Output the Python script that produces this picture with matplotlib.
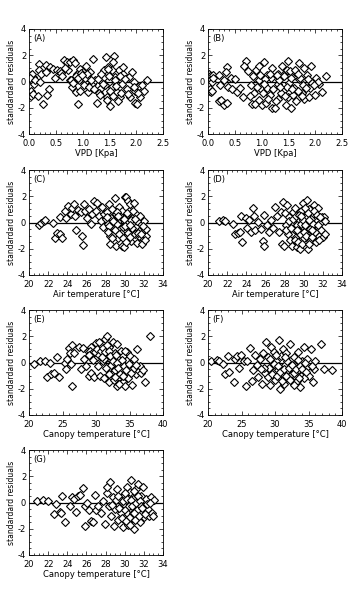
from matplotlib import pyplot as plt
from matplotlib.ticker import MultipleLocator, FormatStrFormatter

# residual plots, 7 panels (A)-(G)

# (A) VPD, model 1
vpd_a = [0.04, 0.04, 0.08, 0.03, 0.04, 0.08, 0.10, 0.06, 0.02, 0.12,
         0.19, 0.19, 0.23, 0.20, 0.26, 0.17, 0.32, 0.32, 0.39, 0.37, 0.34, 0.45, 0.48, 0.52, 0.57, 0.60,
         0.66, 0.70, 0.73, 0.76, 0.77, 0.82, 0.86, 0.80, 0.87, 0.92, 0.90, 0.95, 0.98, 1.01, 1.04, 0.95, 1.06, 1.09, 1.14, 1.17, 1.11,
         1.24, 1.20, 1.26, 1.33, 1.36, 1.39, 1.40, 1.44, 1.48, 1.46, 1.51, 1.54, 1.58, 1.56, 1.61, 1.64, 1.67, 1.70, 1.73, 1.76, 1.76,
         1.83, 1.86, 1.89, 1.95, 1.98, 2.01, 1.98, 2.07, 2.14, 2.20, 2.05,
         0.85, 0.88, 0.93, 0.97, 1.00, 1.02, 1.05, 1.08, 0.78, 0.83,
         0.91, 0.99, 1.12, 1.15, 1.22, 1.28, 1.30, 1.35, 1.42, 1.45,
         1.50, 1.52, 1.55, 1.57, 1.60, 1.63, 1.66, 1.69, 1.72, 1.80,
         1.85, 1.92, 1.96, 2.03, 2.10, 0.62, 0.68, 1.32, 1.38, 1.47]
res_a = [0.46, 0.08, 0.33, -0.70, -1.08, -0.95, -0.20, 0.55, 0.25, 0.10,
         1.30, 0.85, 0.54, 0.00, -1.75, -1.08, 1.23, 0.72, 1.10, -0.56, -1.00, 0.97, 0.28, 0.90, 0.80, 0.64,
         1.67, 1.50, 0.85, 1.50, 0.08, 1.67, 1.41, -0.44, -0.82, -1.72, 0.59, 0.97, 0.33, 0.72, -0.05, -0.70, 1.15, 0.33, 0.72, -0.18, -0.82,
         0.08, 1.74, -1.60, -0.56, -0.05, 0.85, 0.33, 1.90, 1.10, -1.20, -1.85, -0.44, 1.97, 1.50, 0.33, -0.82, 0.85, -1.20, -0.18, 0.59, 1.10,
         -0.56, 0.33, -1.20, -0.05, -1.60, -1.72, -0.70, -1.20, -0.70, 0.08, -0.38,
         0.20, 0.45, 0.10, 0.65, 0.40, -0.30, 0.25, 0.55, 0.15, -0.10,
         0.30, 0.50, -0.40, 0.10, -0.60, 0.20, -0.90, 0.60, -0.30, -1.40,
         0.45, -0.70, 0.90, -1.10, 0.15, -0.35, -1.50, 0.40, -0.90, 0.20,
         -0.95, 0.70, -0.45, -0.85, -0.30, 0.40, 1.05, -1.00, -0.20, 0.95]

# (B) VPD, model 2
vpd_b = [0.02, 0.04, 0.06, 0.08, 0.03, 0.05, 0.07, 0.10, 0.09,
         0.20, 0.25, 0.30, 0.35, 0.20, 0.22, 0.35, 0.33, 0.30, 0.38, 0.45, 0.42, 0.50, 0.55,
         0.70, 0.68, 0.60, 0.65, 0.75, 0.80, 0.82, 0.88, 0.90, 0.95, 0.95, 0.85, 0.88, 0.95, 0.98,
         1.05, 1.00, 1.08, 1.10, 1.10, 1.20, 1.25, 1.20, 1.18, 1.15, 1.30, 1.30, 1.30, 1.38, 1.45, 1.40, 1.45, 1.50, 1.48, 1.55, 1.52, 1.55, 1.50,
         1.62, 1.60, 1.65, 1.70, 1.70, 1.75, 1.80, 1.78, 1.80, 1.85, 1.88, 1.92, 1.92, 1.95, 1.90, 2.00, 2.02, 2.08, 2.12, 2.20, 2.05,
         0.92, 0.97, 1.02, 1.06, 1.12, 1.16, 1.22, 1.26, 1.33, 1.36,
         1.42, 1.47, 1.53, 1.58, 1.63, 1.67, 1.72, 1.76, 1.83, 1.87,
         0.78, 0.84, 1.04, 1.28, 1.35, 1.44, 1.57, 1.68, 1.94, 1.98]
res_b = [0.6, 0.4, 0.2, 0.0, -0.6, -0.8, -0.7, 0.5, 0.3,
         -1.5, -1.4, -1.8, -1.6, 0.5, -0.3, 1.1, 0.7, 0.1, -0.4, -0.6, 0.3, 0.2, -0.8,
         1.6, 1.2, -0.5, -1.2, 0.8, -0.3, -1.7, -1.75, 0.9, 1.2, -1.4, -0.9, 0.3, 0.1, -0.6,
         1.5, -1.8, -1.6, 0.5, -0.5, -2.0, -2.0, 1.0, 0.3, -1.0, 0.6, -0.2, -1.3, 1.2, 0.7, -0.7, -1.8, 1.6, 0.9, -2.0, -0.1, 0.3, -1.2,
         0.7, -0.5, -1.5, 1.4, 0.2, -0.9, 1.0, -0.3, -1.3, 0.5, -1.2, 1.2, -0.3, -0.2, -0.5, -1.0, 0.3, -0.2, -0.8, 0.4, 0.0,
         -0.4, 0.5, -0.9, 0.2, -1.3, 0.6, -0.6, -1.5, 0.1, -0.9,
         0.4, -0.4, 0.8, -1.0, 0.9, -0.7, 0.3, -1.1, -0.5, 0.2,
         -1.1, 0.4, -0.2, 0.5, -0.4, -1.1, -0.6, 0.6, -0.1, -0.3]

# (C) air temperature, model 1
ta_c = [21.05, 21.3, 21.6, 21.7, 22.5, 22.7, 22.96, 23.2, 23.4, 23.2, 23.8, 23.9, 24.1, 24.35, 24.5, 24.7, 24.8, 24.9, 25.15, 25.4,
        25.5, 25.6, 25.75, 25.9, 26.1, 26.3, 26.55, 26.45, 26.8, 26.97, 27.14, 27.3, 27.5, 27.6, 27.7, 27.8, 28.0, 28.2, 28.3, 28.36,
        28.43, 28.5, 28.6, 28.7, 28.9, 28.99, 29.06, 29.1, 29.2, 29.3, 29.4, 29.5, 29.6, 29.7, 29.76, 29.86, 29.93, 30.03, 30.1, 30.17,
        30.24, 30.3, 30.38, 30.45, 30.5, 30.6, 30.7, 30.8, 30.87, 30.94, 31.0, 31.08, 31.15, 31.2, 31.3, 31.4, 31.5, 31.67, 31.78, 31.85,
        32.0, 32.1, 32.2, 32.25,
        28.1, 28.4, 28.8, 29.0, 29.2, 29.45, 29.65, 29.8, 30.0, 30.2,
        30.35, 30.55, 30.65, 30.75, 30.9, 31.05, 31.25, 31.45, 31.6, 31.9,
        28.25, 28.65, 29.35, 29.9, 30.15, 30.6, 31.1, 31.35, 31.7, 32.15]
res_c = [-0.18, 0.0, 0.13, 0.18, -0.05, -1.15, -0.77, -0.9, -1.15, 0.44, 0.9, 0.38, 1.28, 0.64, 1.1, 1.41, 0.51, -0.59, 0.95, 0.77,
         -1.03, -1.72, 1.41, 0.9, 0.38, 1.03, 0.64, -0.08, 1.62, 0.9, 1.46, 0.51, 0.13, 1.15, -0.38, 0.64, 0.26, 0.77, -0.13, 1.41,
         -1.03, -1.67, 0.38, 1.03, -0.51, 1.87, -1.8, 0.64, -0.13, -1.15, 1.2, 0.26, -0.77, -1.8, 0.9, -0.38, -1.87, 1.97, 0.51, 1.92,
         -1.03, 1.67, 0.0, 0.9, -0.51, 1.41, -1.41, 0.38, -0.77, 1.49, -0.13, -1.15, 0.64, -0.38, -1.54, 0.26, -0.64, -0.13, -1.15, -1.67,
         0.13, -0.59, -1.03, -0.51,
         0.45, -0.3, 0.1, -0.6, 0.8, -0.9, 0.4, -1.2, -0.3, 0.7,
         -0.8, -1.1, 0.2, -0.4, 0.9, -0.9, 0.1, -1.0, 0.5, -0.3,
         -0.7, -1.2, 0.5, 0.3, -1.5, -0.2, 0.3, -0.8, -0.9, -1.3]

# (D) air temperature, model 2
ta_d = [21.1, 21.6, 21.8, 22.6, 22.8, 23.1, 23.3, 23.4, 23.5, 24.0,
        24.1, 24.3, 24.5, 24.7, 24.8, 24.9, 25.2, 25.5, 25.7, 25.8,
        25.9, 26.2, 26.4, 26.6, 26.8, 27.0, 27.2, 27.4, 27.6, 27.7,
        27.8, 27.9, 28.0, 28.1, 28.3, 28.4, 28.5, 28.6, 28.7, 28.8,
        28.9, 29.0, 29.1, 29.2, 29.3, 29.4, 29.5, 29.6, 29.7, 29.8,
        29.9, 30.0, 30.1, 30.2, 30.3, 30.4, 30.5, 30.6, 30.7, 30.8,
        30.9, 31.0, 31.1, 31.2, 31.3, 31.4, 31.5, 31.6, 31.7, 31.8,
        31.9, 32.0, 32.1, 32.2, 32.2,
        28.2, 28.45, 28.65, 28.85, 29.05, 29.15, 29.25, 29.45, 29.55, 29.65,
        29.75, 29.85, 29.95, 30.05, 30.15, 30.25, 30.35, 30.45, 30.55, 30.65,
        30.75, 30.85, 30.95, 31.05, 31.15, 31.25, 31.35, 31.45, 31.55, 31.65,
        29.35, 29.75, 30.1, 30.6, 30.9]
res_d = [0.1, 0.2, 0.15, -0.1, -0.9, -0.8, -0.7, 0.5, -1.5, 0.35,
         -0.4, 0.2, -0.7, 1.1, 0.5, -0.6, 0.05, -0.5, -1.4, -1.8,
         0.6, -0.2, -0.7, 0.2, -0.4, 1.2, 0.5, -0.7, 0.8, -1.6,
         1.6, -1.8, 0.7, -0.2, 1.3, -0.9, 0.4, -1.3, 0.0, -1.8,
         0.8, -0.5, 1.1, -1.1, -1.9, 0.3, -0.8, -2.0, 0.9, -0.3,
         1.5, -1.2, 0.4, -0.6, 1.7, -2.0, 0.1, 1.0, -1.4, -0.2,
         0.6, -0.9, 1.3, -1.2, 0.3, -0.5, 1.1, -1.0, 0.0, -0.6,
         0.4, -1.1, 0.4, -0.9, 0.1,
         -0.6, 0.1, -0.4, 0.3, -1.3, 0.5, -0.2, -1.5, 0.6, -0.9,
         -0.1, -1.6, 0.2, -0.7, 1.1, -1.0, -0.3, 0.7, -1.6, -0.5,
         0.3, -1.1, -0.1, 0.9, -0.7, -1.5, 0.6, -0.2, -1.3, 0.4,
         -0.6, 0.5, -0.2, 0.2, -0.6]

# (E) canopy temperature, model 1
tc_e = [20.8, 21.6, 22.4, 23.2, 22.7, 23.3, 23.8, 24.2, 24.5, 25.3,
        25.5, 25.7, 25.9, 26.1, 26.4, 26.3, 26.4, 26.7, 27.5, 27.8,
        28.0, 28.2, 28.5, 28.8, 29.0, 29.2, 29.3, 29.5, 29.7, 30.0,
        30.1, 30.3, 30.5, 30.6, 30.8, 31.0, 31.2, 31.4, 31.5, 31.7,
        31.8, 31.9, 32.0, 32.2, 32.4, 32.5, 32.7, 32.8, 33.0, 33.1,
        33.2, 33.4, 33.5, 33.7, 33.8, 34.0, 34.1, 34.3, 34.4, 34.6,
        34.7, 34.8, 35.0, 35.1, 35.3, 35.5, 35.7, 35.9, 36.1, 36.2,
        36.5, 36.7, 37.3, 38.0, 37.0,
        29.1, 29.4, 29.9, 30.2, 30.4, 30.7, 31.1, 31.3, 31.6, 31.9,
        32.1, 32.3, 32.6, 32.9, 33.1, 33.3, 33.6, 33.9, 34.2, 34.5,
        34.9, 35.2, 35.6, 36.0, 31.2, 32.0, 32.8, 33.4, 34.0, 28.9,
        29.6, 30.9, 31.5, 33.0, 34.4]
res_e = [-0.1, 0.1, 0.15, 0.0, -1.1, -0.9, -0.8, 0.4, -1.1, 0.0,
         -0.5, 0.3, 1.1, 0.7, 1.3, -0.1, -1.8, 0.7, 1.2, -0.5,
         1.1, 0.3, -0.3, 0.9, -1.0, 1.2, -0.8, 0.6, -1.1, 1.5,
         0.4, -0.3, 1.6, -1.0, 0.8, 0.1, -1.2, 1.8, 0.5, 2.0,
         -0.5, -1.5, 1.2, 0.2, -0.9, 1.6, -1.3, 0.7, -0.3, 1.4,
         -1.8, 0.3, -1.1, 0.9, -0.5, -1.5, 0.5, -0.8, -1.8, 0.2,
         0.8, -1.2, -0.4, 0.5, -1.7, -0.2, 0.3, -0.9, 1.0, -0.6,
         -0.3, -0.8, -1.5, 2.0, -0.6,
         0.9, 0.7, 0.8, 1.0, 0.6, 0.9, 1.1, 0.8, 1.3, 0.9,
         0.5, -0.2, 0.1, -0.6, 0.0, -0.4, -0.9, 0.2, -0.3, -0.6,
         -0.1, -0.8, -0.4, -0.2, 0.3, -0.9, -1.1, -1.6, -1.0, 0.6,
         0.2, 0.4, -0.4, 0.6, 0.9]

# (F) canopy temperature, model 2
tc_f = [20.4, 21.3, 21.6, 22.3, 22.6, 23.0, 23.2, 23.9, 24.0, 24.4,
        24.6, 24.9, 25.3, 25.6, 25.8, 26.2, 26.5, 26.7, 27.0, 27.3,
        27.5, 27.8, 28.0, 28.2, 28.5, 28.7, 28.9, 29.0, 29.2, 29.4,
        29.6, 29.8, 30.0, 30.2, 30.4, 30.6, 30.7, 30.9, 31.0, 31.2,
        31.4, 31.5, 31.7, 31.9, 32.0, 32.2, 32.4, 32.5, 32.7, 32.9,
        33.0, 33.2, 33.4, 33.6, 33.8, 34.0, 34.2, 34.4, 34.6, 34.8,
        35.0, 35.3, 35.6, 35.8, 36.0, 36.8, 37.3, 38.5, 35.5,
        29.1, 29.5, 29.9, 30.3, 30.5, 30.8, 31.1, 31.3, 31.6, 31.8,
        32.1, 32.3, 32.6, 32.8, 33.1, 33.3, 33.5, 33.7, 33.9, 34.1,
        34.3, 34.5, 34.7, 29.3, 30.1, 31.5, 32.9, 33.6, 28.4, 27.9]
res_f = [0.1, 0.2, 0.1, -0.1, -0.9, 0.5, -0.7, -1.5, 0.3, 0.5,
         -0.4, 0.6, 0.1, -1.8, 0.1, 1.1, -1.4, -0.6, 0.6, -0.2,
         -1.1, 0.3, -1.6, 0.7, -0.8, 1.6, 0.4, -1.1, -1.7, 1.2,
         -0.3, 0.8, -1.3, 0.1, -0.6, 1.7, -2.0, 0.5, -0.9, 1.0,
         -1.6, -0.2, 0.7, -1.2, -0.6, 1.4, 0.2, -0.9, -1.5, 0.4,
         -0.3, -1.1, 0.8, -0.6, -1.9, 0.1, -0.8, 1.2, -0.4, 0.3,
         -1.0, 1.0, -1.5, -0.5, 0.1, 1.4, -0.5, -0.6, -0.3,
         -0.4, -0.9, -0.1, -1.0, -0.3, -0.7, -1.4, -0.5, -1.0, 0.1,
         -0.4, -1.3, -0.2, -0.8, -0.5, -1.4, 0.2, -0.3, -1.0, -0.5,
         -1.2, 0.0, -0.7, 0.3, 0.6, 0.4, -1.7, -1.2, -0.4, -0.5]

# (G) canopy temperature, model 3
tc_g = [20.8, 21.5, 22.0, 22.6, 22.8, 23.2, 23.3, 23.4, 23.8, 24.3,
        24.5, 24.7, 24.9, 25.1, 25.3, 25.6, 25.8, 25.9, 26.1, 26.3,
        26.5, 26.7, 26.9, 27.0, 27.2, 27.5, 27.7, 27.9, 28.1, 28.2,
        28.4, 28.5, 28.6, 28.8, 28.9, 29.0, 29.2, 29.3, 29.5, 29.6,
        29.8, 29.9, 30.0, 30.1, 30.2, 30.3, 30.4, 30.5, 30.6, 30.7,
        30.8, 30.9, 31.0, 31.1, 31.2, 31.3, 31.4, 31.5, 31.6, 31.7,
        31.8, 31.9, 32.0, 32.2, 32.4, 32.5, 32.7, 32.8, 33.0, 33.1,
        29.4, 29.7, 29.85, 30.05, 30.15, 30.25, 30.35, 30.45, 30.55, 30.65,
        30.75, 30.85, 30.95, 31.05, 31.15, 31.25, 31.35, 31.45, 31.55, 31.65,
        31.85, 32.1, 32.3, 28.7, 29.1, 29.3, 30.0, 30.6, 31.0, 32.6]
res_g = [0.1, 0.2, 0.1, -0.9, -0.1, -0.7, -0.8, 0.5, -1.5, -0.3,
         0.4, 0.3, -0.7, 0.5, 0.6, 1.1, -0.3, -1.8, 0.0, -0.6,
         -1.4, -1.5, 0.6, -0.6, -0.3, -0.8, 0.1, -1.6, 0.7, 1.2,
         -0.3, 1.6, -1.0, 0.4, -1.8, -0.5, 1.0, -1.3, 0.2, -0.8,
         -1.9, 0.6, -0.2, -1.0, 1.2, -1.7, 0.0, 0.8, -0.6, 1.7,
         -1.2, 0.3, -2.0, -0.4, 1.0, -0.9, 1.4, -0.2, -1.5, 0.5,
         -0.7, 1.2, -1.1, 0.3, -0.5, -1.0, 0.4, -0.8, -1.0, 0.2,
         -0.4, -1.2, 0.1, -0.6, -1.4, 0.3, -0.9, -0.3, -1.1, 0.2,
         -0.3, -0.8, 0.9, -1.3, 0.0, -0.6, 0.5, -1.0, 0.1, -0.3,
         -0.4, -0.9, -0.1, -0.2, 0.2, 0.5, 0.7, -1.7, -0.8, 0.0]

ylab = 'standardard residuals'
vpd_lab = 'VPD [Kpa]'
air_lab = 'Air temperature [°C]'
can_lab = 'Canopy temperature [°C]'

plt.rcParams['axes.unicode_minus'] = False
plt.rcParams['font.size'] = 6

fig = plt.figure(figsize=(3.49, 6.06), dpi=100)

# left/bottom in figure fraction, same size for every panel
w = 134 / 349
h = 105 / 606
lefts = [29 / 349, 208 / 349]
bottoms = [1 - 134 / 606, 1 - 275 / 606, 1 - 415 / 606, 1 - 555 / 606]


def panel(col, row, x, y, tag, xlab, xlim, xmaj, xmin, xfmt):
    ax = fig.add_axes([lefts[col], bottoms[row], w, h])
    ax.plot(x, y, linestyle='none', marker='D', markersize=3.7,
            markerfacecolor='white', markeredgecolor='black', markeredgewidth=0.8)
    ax.axhline(0, color='black', lw=0.9, zorder=0)
    ax.set_xlim(xlim)
    ax.set_ylim(-4, 4)
    ax.xaxis.set_major_locator(MultipleLocator(xmaj))
    ax.xaxis.set_minor_locator(MultipleLocator(xmin))
    ax.xaxis.set_major_formatter(FormatStrFormatter(xfmt))
    ax.yaxis.set_major_locator(MultipleLocator(2))
    ax.yaxis.set_minor_locator(MultipleLocator(0.5))
    ax.tick_params(which='both', direction='in', top=True, right=True, width=0.5, labelsize=6)
    ax.tick_params(axis='x', pad=3.5)
    ax.tick_params(axis='y', pad=2)
    ax.tick_params(which='major', length=3)
    ax.tick_params(which='minor', length=1.5)
    for s in ax.spines.values():
        s.set_linewidth(0.6)
    ax.set_xlabel(xlab, fontsize=6, labelpad=0.5)
    ax.set_ylabel(ylab, fontsize=5.5, labelpad=1.5)
    ax.text(0.03, 0.95, tag, transform=ax.transAxes, fontsize=6, va='top', ha='left')
    return ax


panel(0, 0, vpd_a, res_a, '(A)', vpd_lab, (0, 2.5), 0.5, 0.1, '%.1f')
panel(1, 0, vpd_b, res_b, '(B)', vpd_lab, (0, 2.5), 0.5, 0.1, '%.1f')
panel(0, 1, ta_c, res_c, '(C)', air_lab, (20, 34), 2, 0.5, '%d')
panel(1, 1, ta_d, res_d, '(D)', air_lab, (20, 34), 2, 0.5, '%d')
panel(0, 2, tc_e, res_e, '(E)', can_lab, (20, 40), 5, 1, '%d')
panel(1, 2, tc_f, res_f, '(F)', can_lab, (20, 40), 5, 1, '%d')
panel(0, 3, tc_g, res_g, '(G)', can_lab, (20, 34), 2, 0.5, '%d')

fig.savefig('out.png', dpi=100)
